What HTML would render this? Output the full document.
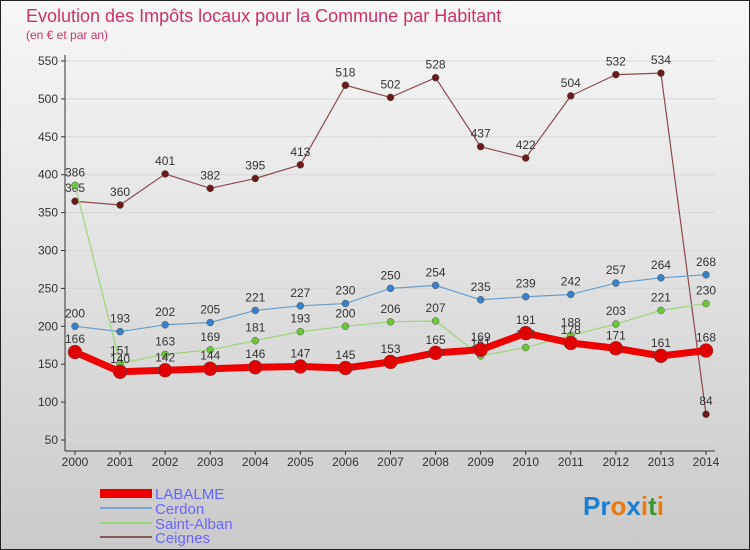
<!DOCTYPE html>
<html><head><meta charset="utf-8"><style>
body{margin:0;}
svg{display:block;font-family:"Liberation Sans",sans-serif;}
</style></head><body>
<svg id="c" width="750" height="550">
<defs><linearGradient id="bg" x1="0" y1="0" x2="0" y2="1"><stop offset="0" stop-color="#f7f7f7"/><stop offset="1" stop-color="#cacaca"/></linearGradient></defs>
<rect x="0.5" y="0.5" width="749" height="549" fill="url(#bg)" stroke="#222"/>
<text x="26" y="22" font-size="18" fill="#d0306a">Evolution des Impôts locaux pour la Commune par Habitant</text>
<text x="26" y="39" font-size="12" fill="#d0306a">(en € et par an)</text>
<g id="grid"></g><g id="series"></g>
<g>
<rect x="100" y="489" width="52" height="9" fill="#e00"/>
<text x="155" y="499" font-size="15" fill="#66f">LABALME</text>
<line x1="100" y1="508" x2="152" y2="508" stroke="#7ba7cc" stroke-width="2"/>
<text x="155" y="514" font-size="15" fill="#66f">Cerdon</text>
<line x1="100" y1="523" x2="152" y2="523" stroke="#9cd67a" stroke-width="2"/>
<text x="155" y="529" font-size="15" fill="#66f">Saint-Alban</text>
<line x1="100" y1="537" x2="152" y2="537" stroke="#8a5a5a" stroke-width="2"/>
<text x="155" y="543" font-size="15" fill="#66f">Ceignes</text>
</g>
<g font-size="26" font-weight="bold">
<text x="583" y="515"><tspan fill="#1a7fd0">Pr</tspan><tspan fill="#e87a10">o</tspan><tspan fill="#1a7fd0">x</tspan><tspan fill="#e87a10">i</tspan><tspan fill="#3a9a30">t</tspan><tspan fill="#e87a10">i</tspan></text>
</g>
</svg>
<script>
const years=[2000,2001,2002,2003,2004,2005,2006,2007,2008,2009,2010,2011,2012,2013,2014];
const yTicks=[50,100,150,200,250,300,350,400,450,500,550];
const labalme=[166,140,142,144,146,147,145,153,165,169,191,178,171,161,168];
const cerdon=[200,193,202,205,221,227,230,250,254,235,239,242,257,264,268];
const saintAlban=[386,151,163,169,181,193,200,206,207,161,172,188,203,221,230];
const ceignes=[365,360,401,382,395,413,518,502,528,437,422,504,532,534,84];
const NS="http://www.w3.org/2000/svg";
const X=i=>75+i*(631/14);
const Y=v=>440-(v-50)*(379/500);
function mk(p,t,a){const e=document.createElementNS(NS,t);for(const k in a)e.setAttribute(k,a[k]);p.appendChild(e);return e;}
const g=document.getElementById('grid');
yTicks.forEach(v=>{
 const l=mk(g,'line',{x1:65,x2:715,y1:Y(v),y2:Y(v),stroke:'#d8d8d8'});
 
 
 const t=mk(g,'text',{x:58,y:Y(v)+4,'font-size':12,fill:'#333','text-anchor':'end'});t.textContent=v;
 
 
 mk(g,'line',{x1:61,x2:65,y1:Y(v),y2:Y(v),stroke:'#333'});
});
const ya=mk(g,'line',{x1:65,x2:65,y1:55,y2:451,stroke:'#333'});


const xa=mk(g,'line',{x1:65,x2:715,y1:451,y2:451,stroke:'#333'});


years.forEach((y,i)=>{
 mk(g,'line',{x1:X(i),x2:X(i),y1:451,y2:455,stroke:'#333'});
 const t=mk(g,'text',{x:X(i),y:466,'font-size':12,fill:'#333','text-anchor':'middle'});t.textContent=y;
 
 
});
const s=document.getElementById('series');
function draw(arr,name,color,dot,w,r){
 const gg=mk(s,'g',{});
 
 
 const pl=mk(gg,'polyline',{points:arr.map((v,i)=>X(i)+','+Y(v)).join(' '),fill:'none',stroke:color,'stroke-width':w,'stroke-linejoin':'round'});
 
 
 arr.forEach((v,i)=>{
  const c=mk(gg,'circle',{cx:X(i),cy:Y(v),r:r,fill:dot,stroke:'#555','stroke-width':0.5});
  
  
  const t=mk(gg,'text',{x:X(i),y:Y(v)-9,'font-size':12,fill:'#333','text-anchor':'middle'});t.textContent=v;
  
  
 });
}
draw(ceignes,'ceignes','#8a4a4a','#6a1a1a',1.2,3.5);
draw(cerdon,'cerdon','#6a9fcc','#3a80c8',1.2,3.5);
draw(saintAlban,'saint-alban','#9cd67a','#6cc83a',1.2,3.5);
draw(labalme,'labalme','#ee0000','#e00000',7,7);
</script>
</body></html>
